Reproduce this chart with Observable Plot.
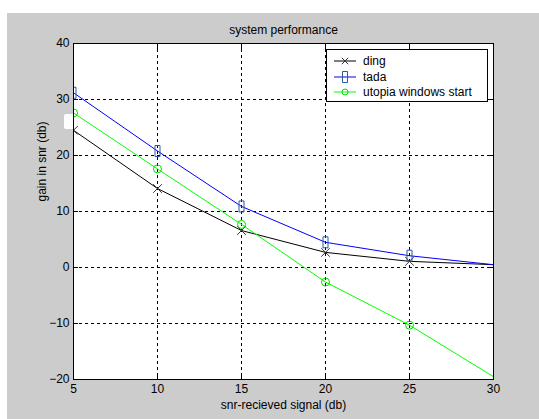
<!DOCTYPE html>
<html>
<head>
<meta charset="utf-8">
<script src="https://cdn.jsdelivr.net/npm/d3@7"></script>
<script src="https://cdn.jsdelivr.net/npm/@observablehq/plot@0.6"></script>
<style>
  html, body { margin: 0; padding: 0; background: #ffffff; }
  #fig { position: relative; width: 539px; height: 419px; overflow: hidden; font-family: "Liberation Sans", Arial, Helvetica, sans-serif; }
  #bg { position: absolute; left: 7px; top: 13px; right: 0; bottom: 0; background: #cccccc; }
  #chart { position: absolute; left: 0; top: 0; }
  #blip { position: absolute; left: 64px; top: 114px; width: 9px; height: 15px; background: #ffffff; border-radius: 2px 0 0 2px; }
  #legend { position: absolute; left: 326px; top: 49px; width: 160px; height: 51px; background: #ffffff; border: 1px solid #000; box-sizing: content-box; }
  .row { position: absolute; left: 0; height: 14px; display: flex; align-items: center; font-size: 12px; color: #000; white-space: nowrap; }
  .row svg { margin-left: 6px; margin-right: 6px; }
</style>
</head>
<body>
<div id="fig">
  <div id="bg"></div>
  <div id="blip"></div>
  <div id="chart"></div>
  <div id="legend"></div>
</div>
<script>
// ---- data ----
const xValues = [5, 10, 15, 20, 25, 30];
const markerX = [5, 10, 15, 20, 25];
const ding = [24.5, 14.1, 6.6, 2.7, 1.1, 0.5];
const tada = [31.2, 20.8, 10.9, 4.5, 2.1, 0.5];
const utopia = [27.6, 17.6, 7.7, -2.6, -10.3, -19.5];
const seriesNames = ["ding", "tada", "utopia windows start"];
const xTicks = [5, 10, 15, 20, 25, 30];
const yTicks = [-20, -10, 0, 10, 20, 30, 40];
const titleText = "system performance";
const xLabelText = "snr-recieved signal (db)";
const yLabelText = "gain in snr (db)";

// ---- styling ----
const tallRect = {
  draw(context, size) {
    const w = 2.5, h = 5.5;
    context.moveTo(-w, -h); context.lineTo(w, -h); context.lineTo(w, h); context.lineTo(-w, h); context.closePath();
  }
};
const styles = [
  {line: "#000000", marker: "#333344", symbol: "times", r: 4},
  {line: "#0000ff", marker: "#2a5aa0", symbol: tallRect, r: 4},
  {line: "#00ff00", marker: "#00dd00", symbol: "circle", r: 4}
];
const seriesValues = [ding, tada, utopia];

const lineData = [];
const dotData = [];
seriesValues.forEach((vals, i) => {
  vals.forEach((v, j) => {
    lineData.push({series: seriesNames[i], x: xValues[j], y: v, i});
    if (markerX.includes(xValues[j])) dotData.push({series: seriesNames[i], x: xValues[j], y: v, i});
  });
});

const innerX = xTicks.slice(1, -1);
const innerY = yTicks.slice(1, -1);
const fs = 12;

const marks = [
  Plot.frame({fill: "white", stroke: "none"}),
  Plot.gridX(innerX, {stroke: "black", strokeOpacity: 1, strokeDasharray: "3,3"}),
  Plot.gridY(innerY, {stroke: "black", strokeOpacity: 1, strokeDasharray: "3,3"}),
  // inward ticks on all four sides
  Plot.axisX(xTicks, {anchor: "bottom", tickSize: -5, tickFormat: () => "", label: null}),
  Plot.axisX(xTicks, {anchor: "top", tickSize: -5, tickFormat: () => "", label: null}),
  Plot.axisY(yTicks, {anchor: "left", tickSize: -5, tickFormat: () => "", label: null}),
  Plot.axisY(yTicks, {anchor: "right", tickSize: -5, tickFormat: () => "", label: null}),
  // tick labels
  Plot.axisX(xTicks, {anchor: "bottom", tickSize: 0, tickPadding: 5, label: null, fontSize: fs}),
  Plot.axisY(yTicks, {anchor: "left", tickSize: 0, tickPadding: 4, label: null, fontSize: fs}),
];
styles.forEach((s, i) => {
  marks.push(Plot.line(lineData.filter(d => d.i === i), {x: "x", y: "y", stroke: s.line, strokeWidth: 1}));
});
styles.forEach((s, i) => {
  marks.push(Plot.dot(dotData.filter(d => d.i === i), {x: "x", y: "y", stroke: s.marker, symbol: s.symbol, r: s.r, strokeWidth: 1, clip: true}));
});
marks.push(
  Plot.frame({stroke: "black", strokeWidth: 1}),
  Plot.text([titleText], {frameAnchor: "top", dy: -18, fontSize: fs, fill: "black"}),
  Plot.text([xLabelText], {frameAnchor: "bottom", dy: 29, fontSize: fs, fill: "black"}),
  Plot.text([yLabelText], {frameAnchor: "left", dx: -31, dy: -10, rotate: -90, fontSize: fs, fill: "black"})
);

const chart = Plot.plot({
  width: 539,
  height: 419,
  marginLeft: 73,
  marginRight: 46,
  marginTop: 43,
  marginBottom: 40,
  style: {background: "transparent", fontFamily: "'Liberation Sans', Arial, Helvetica, sans-serif", fontSize: fs + "px", color: "black", overflow: "visible"},
  x: {domain: [5, 30], label: null},
  y: {domain: [-20, 40], label: null},
  marks
});
document.getElementById("chart").appendChild(chart);

// ---- legend ----
const legend = document.getElementById("legend");
const rowCenters = [11, 26.5, 42];
seriesNames.forEach((name, i) => {
  const s = styles[i];
  const row = document.createElement("div");
  row.className = "row";
  row.style.top = (rowCenters[i] - 7) + "px";
  const svg = d3.create("svg").attr("width", 24).attr("height", 14);
  svg.append("line").attr("x1", 1).attr("x2", 23).attr("y1", 7).attr("y2", 7).attr("stroke", s.line).attr("stroke-width", 1);
  let d;
  if (s.symbol === "times") d = d3.symbol(d3.symbolTimes, 28)();
  else if (s.symbol === "circle") d = d3.symbol(d3.symbolCircle, 28)();
  else d = d3.symbol(s.symbol, 0)();
  svg.append("path").attr("transform", "translate(12,7)").attr("d", d).attr("fill", "none").attr("stroke", s.marker);
  row.appendChild(svg.node());
  const label = document.createElement("span");
  label.textContent = name;
  row.appendChild(label);
  legend.appendChild(row);
});
</script>
</body>
</html>
